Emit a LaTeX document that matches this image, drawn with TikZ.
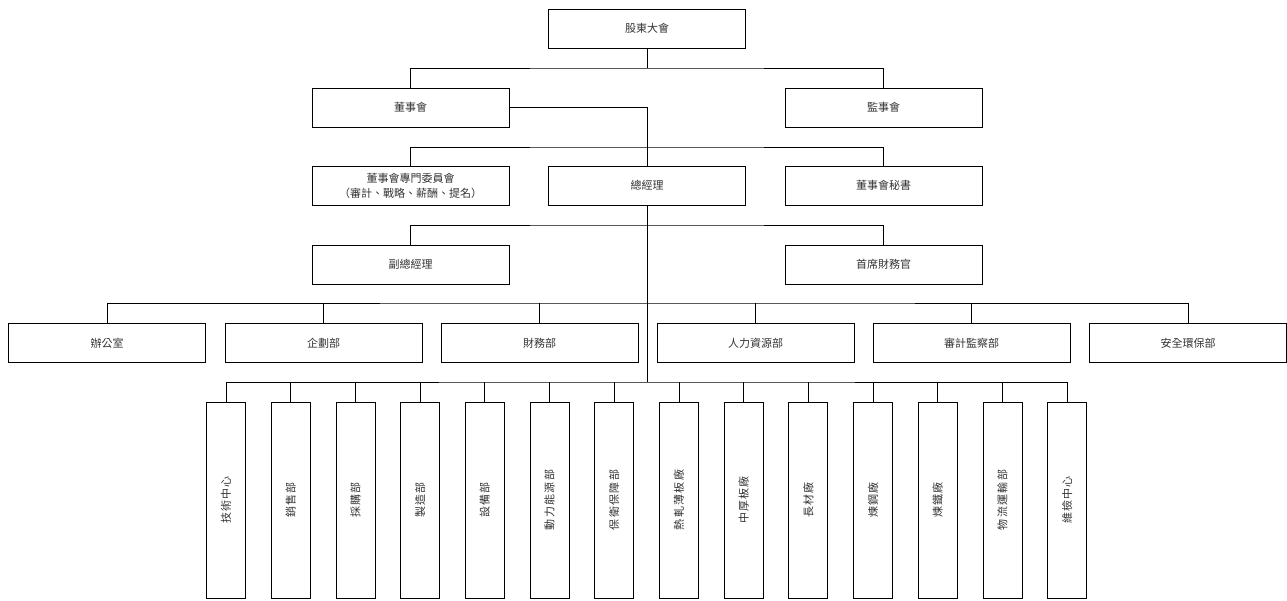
\documentclass[tikz,border=0pt]{standalone}
\usepackage{fontspec}
\setmainfont{Noto Sans CJK TC}
\usepackage{graphicx}
\usepackage{tikz}

\tikzset{
    unit/.style={draw, line width=0.8pt, minimum width=197pt, minimum height=39pt, inner sep=0pt, align=center, text=black!80, font=\fontsize{11}{15}\selectfont},
    tallbox/.style={draw, line width=0.8pt, minimum width=39pt, minimum height=196pt, inner sep=0pt, text=black!80, font=\fontsize{11}{15}\selectfont\addfontfeatures{LetterSpace=12}},
    link/.style={line width=0.8pt}
}

\begin{document}
\begin{tikzpicture}[x=1pt, y=-1pt]
    \useasboundingbox (0,0) rectangle (1287,601);

    % Top levels
    \node[unit] (sh) at (647,28.5) {股東大會};
    \node[unit] (board) at (410.5,107.5) {董事會};
    \node[unit] (sup) at (883.5,107.5) {監事會};
    \node[unit] (cmte) at (410.5,185.5) {董事會專門委員會\\（審計、戰略、薪酬、提名）};
    \node[unit] (gm) at (647,185.5) {總經理};
    \node[unit] (sec) at (883.5,185.5) {董事會秘書};
    \node[unit] (vgm) at (410.5,264.5) {副總經理};
    \node[unit] (cfo) at (883.5,264.5) {首席財務官};

    % Departments
    \node[unit] (office) at (107,343) {辦公室};
    \node[unit] (plan) at (323.5,343) {企劃部};
    \node[unit] (fin) at (539.5,343) {財務部};
    \node[unit] (hr) at (755.5,343) {人力資源部};
    \node[unit] (audit) at (971.5,343) {審計監察部};
    \node[unit] (safety) at (1188,343) {安全環保部};

    % Units below
    \foreach \name/\txt [count=\i from 0] in {tech/技術中心, sales/銷售部, buy/採購部, make/製造部, equip/設備部, power/動力能源部, guard/保衛保障部, hot/熱軋薄板廠, plate/中厚板廠, long/長材廠, steel/煉鋼廠, iron/煉鐵廠, logi/物流運輸部, insp/維檢中心}
        \node[tallbox] (\name) at ({226+64.7*\i},500) {\rotatebox{90}{\txt}};

    % Bus points on the trunk
    \coordinate (bus1) at (647,68);
    \coordinate (bus2) at (647,147);
    \coordinate (bus3) at (647,225);
    \coordinate (bus4) at (647,303);
    \coordinate (bus5) at (647,382);

    % Draw lines
    \draw[link] (sh.south) -- (bus1);
    \draw[link] (board.north) |- (bus1) -| (sup.north);
    \draw[link] (board.east) -| (gm.north);
    \draw[link] (cmte.north) |- (bus2) -| (sec.north);
    \draw[link] (gm.south) -- (bus5);
    \draw[link] (vgm.north) |- (bus3) -| (cfo.north);
    \draw[link] (office.north) |- (bus4) -| (safety.north);
    \foreach \n in {plan,fin,hr,audit}
        \draw[link] (\n.north) -- (\n.north |- bus4);
    \draw[link] (tech.north) |- (bus5) -| (insp.north);
    \foreach \n in {sales,buy,make,equip,power,guard,hot,plate,long,steel,iron,logi}
        \draw[link] (\n.north) -- (\n.north |- bus5);

\end{tikzpicture}
\end{document}
